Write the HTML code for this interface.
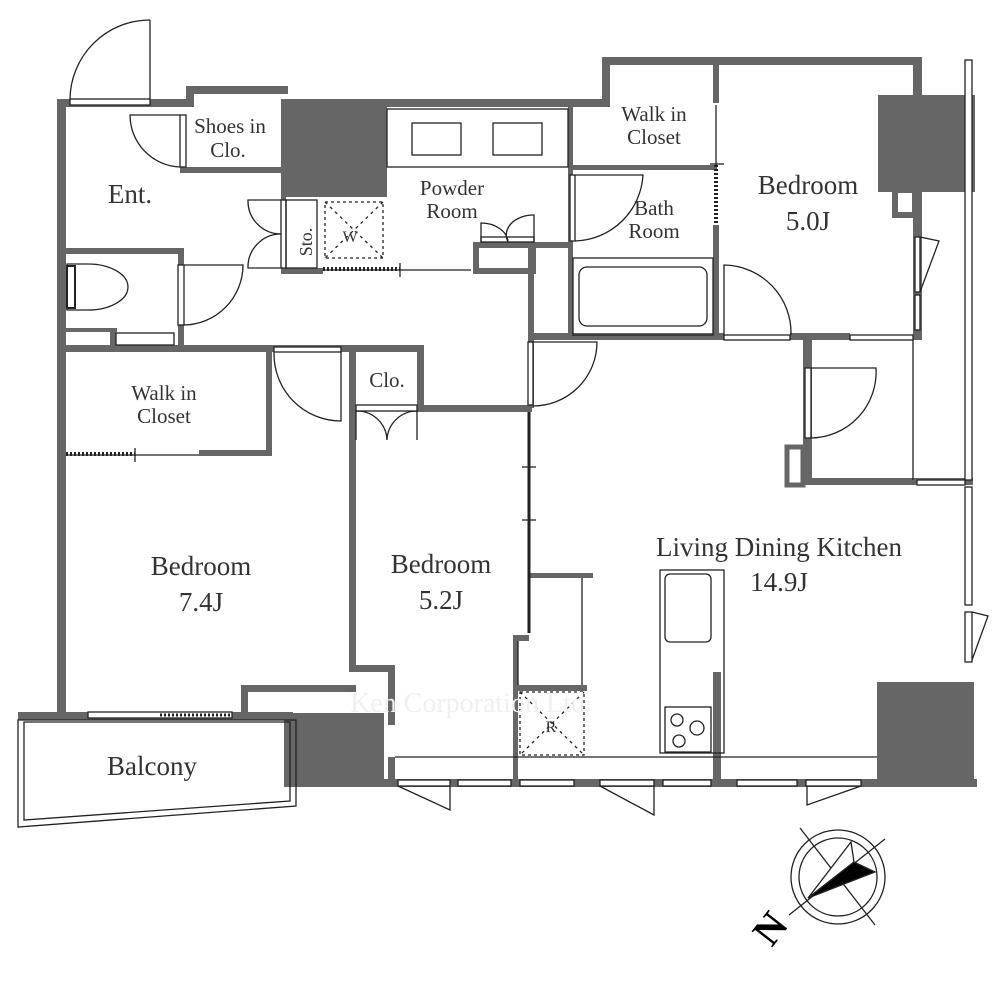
<!DOCTYPE html>
<html><head><meta charset="utf-8"><style>
html,body{margin:0;padding:0;background:#fff}
svg{display:block}
text{font-family:"Liberation Serif",serif;fill:#333}
</style></head><body>
<svg width="1000" height="1000" viewBox="0 0 1000 1000" xmlns="http://www.w3.org/2000/svg">
<g fill="#666" stroke="none">
<rect x="57" y="99" width="9" height="620"/>
<rect x="57" y="99" width="133" height="8"/>
<rect x="186" y="86" width="102" height="8"/>
<rect x="186" y="86" width="8" height="21"/>
<rect x="180" y="167" width="102" height="6"/>
<rect x="281" y="99" width="106" height="98"/>
<rect x="387" y="99" width="220" height="8"/>
<rect x="602" y="57" width="320" height="8"/>
<rect x="602" y="57" width="8" height="50"/>
<rect x="57" y="248" width="127" height="6"/>
<rect x="178" y="248" width="6" height="100"/>
<rect x="57" y="345" width="367" height="7"/>
<rect x="57" y="328" width="60" height="4"/>
<rect x="110" y="328" width="6" height="20"/>
<rect x="417" y="345" width="7" height="65"/>
<rect x="417" y="405" width="115" height="7"/>
<rect x="281" y="197" width="5" height="77"/>
<rect x="281" y="268" width="42" height="6"/>
<rect x="473" y="242" width="63" height="6"/>
<rect x="473" y="242" width="6" height="32"/>
<rect x="530" y="242" width="6" height="32"/>
<rect x="473" y="268" width="63" height="6"/>
<rect x="528" y="242" width="40" height="6"/>
<rect x="528" y="248" width="6" height="160"/>
<rect x="266" y="352" width="6" height="100"/>
<rect x="199" y="450" width="73" height="6"/>
<rect x="349" y="352" width="7" height="320"/>
<rect x="568" y="107" width="5" height="230"/>
<rect x="568" y="165" width="149" height="5"/>
<rect x="713" y="65" width="6" height="38"/>
<rect x="713" y="225" width="6" height="112"/>
<rect x="528" y="333" width="196" height="7"/>
<rect x="790" y="333" width="60" height="7"/>
<rect x="913" y="57" width="9" height="38"/>
<rect x="913" y="190" width="9" height="150"/>
<rect x="878" y="95" width="97" height="97"/>
<rect x="895" y="190" width="20" height="25" fill="none" stroke="#666" stroke-width="6"/>
<rect x="803" y="337" width="9" height="148"/>
<rect x="787" y="447" width="16" height="38" fill="none" stroke="#666" stroke-width="5"/>
<rect x="803" y="478" width="112" height="7"/>
<rect x="913" y="478" width="60" height="7"/>
<rect x="241" y="685" width="115" height="7"/>
<rect x="241" y="685" width="7" height="28"/>
<rect x="349" y="665" width="46" height="7"/>
<rect x="388" y="665" width="7" height="60"/>
<rect x="18" y="712" width="275" height="8"/>
<rect x="284" y="713" width="100" height="74"/>
<rect x="529" y="573" width="64" height="5"/>
<rect x="513" y="635" width="16" height="6"/>
<rect x="513" y="635" width="5" height="145"/>
<rect x="513" y="685" width="74" height="6"/>
<rect x="713" y="672" width="8" height="110"/>
<rect x="877" y="682" width="97" height="105"/>
<rect x="383" y="779" width="594" height="8"/>
<rect x="388" y="757" width="7" height="30"/>
</g>
<g fill="none" stroke="#222" stroke-width="1.3">
<rect x="70" y="99" width="80" height="6" fill="#fff"/>
<line x1="150" y1="99" x2="150" y2="20"/>
<path d="M70 99 A80 80 0 0 1 150 20"/>
<rect x="180" y="115" width="6" height="52" fill="#fff"/>
<path d="M180 115 L130 115 A52 52 0 0 0 180 167"/>
<rect x="387" y="109" width="181" height="58"/>
<rect x="412" y="123" width="49" height="32"/>
<rect x="493" y="123" width="49" height="32"/>
<rect x="281" y="200" width="5" height="68" fill="#fff"/>
<path d="M281 200 L248 200 A33 33 0 0 0 281 234 A33 33 0 0 0 248 268 L281 268"/>
<rect x="286" y="200" width="31" height="68"/>
<rect x="325" y="202" width="58" height="56" stroke-dasharray="3 3"/>
<line x1="325" y1="202" x2="383" y2="258" stroke-dasharray="3 4"/>
<line x1="383" y1="202" x2="325" y2="258" stroke-dasharray="3 4"/>
<line x1="323" y1="270" x2="471" y2="270"/>
<line x1="323" y1="269" x2="400" y2="269" stroke-width="4" stroke-dasharray="2 2"/>
<line x1="400" y1="263" x2="400" y2="277"/>
<path d="M481 242 L481 223 A27 20 0 0 1 508 242 A27 20 0 0 1 534 215 L534 242"/>
<rect x="481" y="237" width="53" height="5"/>
<path d="M67 264 L88 264 A40 23 0 0 1 88 310 L67 310 Z"/>
<rect x="67" y="266" width="8" height="42" stroke-width="2"/>
<rect x="116" y="333" width="58" height="12"/>
<rect x="178" y="265" width="6" height="60" fill="#fff"/>
<path d="M184 265 L243 265 A60 60 0 0 1 184 325"/>
<line x1="66" y1="455" x2="199" y2="455"/>
<line x1="66" y1="454" x2="135" y2="454" stroke-width="4" stroke-dasharray="2 2"/>
<line x1="135" y1="448" x2="135" y2="462"/>
<rect x="274" y="347" width="67" height="5" fill="#fff"/>
<path d="M274 352 A67 67 0 0 0 341 421 L341 352"/>
<rect x="356" y="405" width="61" height="6"/>
<path d="M356 440 L356 411 A30 30 0 0 1 387 440 A30 30 0 0 1 417 411 L417 440"/>
<rect x="528" y="342" width="5" height="63" fill="#fff"/>
<path d="M533 342 L597 342 A64 64 0 0 1 533 406"/>
<rect x="570" y="175" width="5" height="66" fill="#fff"/>
<path d="M575 175 L643 175 A70 70 0 0 1 575 241"/>
<rect x="573" y="258" width="140" height="77"/>
<rect x="579" y="267" width="128" height="59" rx="8"/>
<line x1="716" y1="105" x2="716" y2="165"/>
<line x1="716" y1="165" x2="716" y2="225" stroke-width="4" stroke-dasharray="2 2"/>
<line x1="710" y1="164" x2="724" y2="164"/>
<rect x="724" y="335" width="66" height="5" fill="#fff"/>
<path d="M724 335 L724 265 A68 68 0 0 1 791 335"/>
<rect x="850" y="335" width="63" height="5" fill="#fff"/>
<rect x="915" y="237" width="5" height="55" fill="#fff"/>
<path d="M920 237 L939 241 L920 292"/>
<rect x="915" y="295" width="5" height="35" fill="#fff"/>
<rect x="805" y="368" width="6" height="70" fill="#fff"/>
<path d="M811 368 L876 368 A66 66 0 0 1 811 438"/>
<line x1="913" y1="340" x2="913" y2="480"/>
<rect x="965" y="60" width="7" height="420" fill="#fff"/>
<rect x="965" y="487" width="7" height="118" fill="#fff"/>
<rect x="965" y="612" width="7" height="50" fill="#fff"/>
<path d="M972 612 L988 616 L972 660"/>
<rect x="917" y="480" width="48" height="5" fill="#fff"/>
<line x1="529" y1="412" x2="529" y2="633" stroke-width="3"/>
<line x1="522" y1="467" x2="536" y2="467"/>
<line x1="522" y1="520" x2="536" y2="520"/>
<line x1="582" y1="578" x2="582" y2="685"/>
<line x1="518" y1="641" x2="518" y2="685"/>
<rect x="520" y="692" width="64" height="63" stroke-dasharray="3 3"/>
<line x1="520" y1="692" x2="584" y2="755" stroke-dasharray="3 4"/>
<line x1="584" y1="692" x2="520" y2="755" stroke-dasharray="3 4"/>
<rect x="660" y="570" width="64" height="183"/>
<rect x="665" y="574" width="46" height="68" rx="5"/>
<rect x="665" y="707" width="46" height="45"/>
<circle cx="677" cy="720" r="6"/><circle cx="697" cy="728" r="7"/><circle cx="679" cy="741" r="6"/>
<path d="M18 720 L296 720 L296 806 L18 827 Z"/>
<path d="M24 722 L290 722 L290 801 L24 820 Z"/>
<rect x="88" y="712" width="144" height="6" fill="#fff"/>
<line x1="160" y1="715" x2="230" y2="715" stroke-width="3" stroke-dasharray="2 2"/>
<line x1="395" y1="757" x2="877" y2="757"/>
<rect x="398" y="780" width="52" height="6" fill="#fff"/>
<rect x="458" y="780" width="53" height="6" fill="#fff"/>
<rect x="520" y="780" width="54" height="6" fill="#fff"/>
<rect x="600" y="780" width="54" height="6" fill="#fff"/>
<rect x="663" y="780" width="48" height="6" fill="#fff"/>
<rect x="737" y="780" width="60" height="6" fill="#fff"/>
<rect x="806" y="780" width="55" height="6" fill="#fff"/>
<path d="M398 786 L450 810 L450 786"/>
<path d="M600 786 L654 815 L654 786"/>
<path d="M807 786 L807 805 L861 786"/>
<circle cx="838" cy="877" r="47"/>
<circle cx="838" cy="877" r="39"/>
<line x1="789" y1="915" x2="885" y2="839"/>
<line x1="800" y1="828" x2="875" y2="925"/>
<path d="M851 842 L808 898 L854 862 Z" fill="#fff"/>
<path d="M854 862 L808 898 L875 872 Z" fill="#000"/>
</g>
<text x="758" y="950" font-size="40" font-weight="bold" transform="rotate(-52 763 935)" style="fill:#000">N</text>
<g font-size="21" text-anchor="middle">
<text x="230" y="133">Shoes in</text><text x="228" y="157">Clo.</text>
<text x="452" y="195">Powder</text><text x="452" y="218">Room</text>
<text x="654" y="121">Walk in</text><text x="654" y="144">Closet</text>
<text x="654" y="215">Bath</text><text x="654" y="238">Room</text>
<text x="164" y="400">Walk in</text><text x="164" y="423">Closet</text>
<text x="387" y="387">Clo.</text>
<text x="350" y="242" font-size="16">W</text>
<text x="551" y="732" font-size="16">R</text>
<text x="306" y="248" font-size="18" transform="rotate(-90 306 242)">Sto.</text>
</g>
<g font-size="27" text-anchor="middle">
<text x="130" y="203">Ent.</text>
<text x="808" y="194">Bedroom</text><text x="808" y="230">5.0J</text>
<text x="201" y="575">Bedroom</text><text x="201" y="611">7.4J</text>
<text x="441" y="573">Bedroom</text><text x="441" y="609">5.2J</text>
<text x="779" y="556">Living Dining Kitchen</text><text x="779" y="591">14.9J</text>
<text x="152" y="775">Balcony</text>
</g>
<text x="350" y="712" font-size="28" style="fill:#f0f0f0">Ken Corporation Ltd.</text>
</svg>
</body></html>
